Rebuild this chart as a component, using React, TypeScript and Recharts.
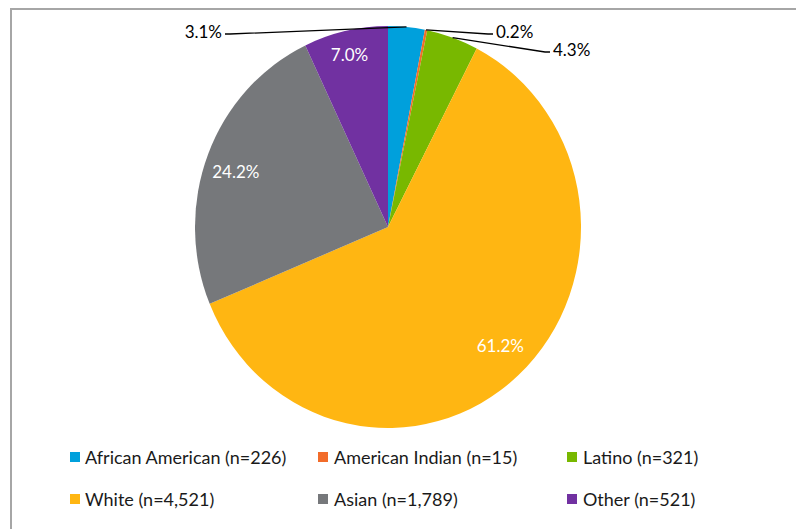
import React from 'react';
import { PieChart, Pie, Cell, Legend } from 'recharts';

const categories = ['African American', 'American Indian', 'Latino', 'White', 'Asian', 'Other'];
const counts = [226, 15, 321, 4521, 1789, 521];
const legendLabels = [
  'African American (n=226)',
  'American Indian (n=15)',
  'Latino (n=321)',
  'White (n=4,521)',
  'Asian (n=1,789)',
  'Other (n=521)',
];

const colors = ['#00A0DC', '#F26C2A', '#78B800', '#FFB612', '#76787B', '#7131A1'];
const FONT = 'Lato, "Open Sans", sans-serif';

const W = 796;
const H = 521;
const CX = 380;
const CY = 219;
const RX = 193;
const RY = 201;
const RAD = Math.PI / 180;

const data = categories.map((name, i) => ({ name, value: counts[i], label: legendLabels[i] }));
const total = counts.reduce((a, b) => a + b, 0);

// label placement style (not data)
const labelStyles: any[] = [
  { inside: false, dx: -163, dy: -193, anchor: 'end', tdy: -3 },
  { inside: false, dx: 105, dy: -193, anchor: 'start', tdy: -3 },
  { inside: false, dx: 162, dy: -175, anchor: 'start', tdy: -3 },
  { inside: true, r: 0.83, ox: 4, oy: -4 },
  { inside: true, r: 0.834, ox: -2, oy: 5 },
  { inside: true, r: 0.884, ox: -1, oy: 1 },
];

const renderLabel = (props: any) => {
  const { midAngle, index } = props;
  const pct = typeof props.percent === 'number' ? props.percent : counts[index] / total;
  const text = (pct * 100).toFixed(1) + '%';
  const c = Math.cos(midAngle * RAD);
  const s = Math.sin(midAngle * RAD);
  const st = labelStyles[index];
  if (st.inside) {
    const x = CX + RX * st.r * c + st.ox;
    const y = CY - RY * st.r * s + st.oy;
    return (
      <text key={'l' + index} x={x} y={y} fill="#ffffff" textAnchor="middle" dominantBaseline="central" fontSize={17} fontFamily={FONT}>
        {text}
      </text>
    );
  }
  const sx = CX + RX * c;
  const sy = CY - RY * s;
  const ex = CX + st.dx;
  const ey = CY + st.dy;
  const hx = st.anchor === 'end' ? ex + 5 : ex - 5;
  const tx = st.anchor === 'end' ? ex - 3 : ex + 3;
  return (
    <g key={'l' + index}>
      <polyline points={`${sx},${sy} ${hx},${ey} ${ex},${ey}`} fill="none" stroke="#000000" strokeWidth={1.3} />
      <text x={tx} y={ey + st.tdy} fill="#000000" textAnchor={st.anchor} dominantBaseline="central" fontSize={17} fontFamily={FONT}>
        {text}
      </text>
    </g>
  );
};

const legendCols = [
  { sq: 62, tx: 77 },
  { sq: 310, tx: 326 },
  { sq: 559, tx: 575 },
];
const legendRows = [449, 491];

const renderLegend = () => (
  <div style={{ position: 'relative', width: W, height: H }}>
    {data.map((d, i) => {
      const col = legendCols[i % 3];
      const rowY = legendRows[Math.floor(i / 3)];
      return (
        <div key={d.name}>
          <div
            style={{
              position: 'absolute',
              left: col.sq,
              top: rowY - 5,
              width: 10,
              height: 10,
              background: colors[i],
            }}
          />
          <div
            style={{
              position: 'absolute',
              left: col.tx,
              top: rowY - 12,
              height: 24,
              lineHeight: '24px',
              fontSize: 18,
              fontFamily: FONT,
              color: '#1a1a1a',
              whiteSpace: 'nowrap',
            }}
          >
            {d.label}
          </div>
        </div>
      );
    })}
  </div>
);

export default function App() {
  return (
    <div style={{ position: 'relative', width: W, height: H, overflow: 'hidden', background: '#ffffff' }}>
      <style>{`path.recharts-sector { transform-origin: ${CX}px ${CY}px; transform: scaleY(${RY / RX}); }`}</style>
      <div
        style={{
          position: 'absolute',
          left: 2,
          top: 0,
          width: 900,
          height: 700,
          borderTop: '2px solid #A6A6A6',
          borderLeft: '2px solid #A6A6A6',
        }}
      />
      <div style={{ position: 'absolute', left: 0, top: 0 }}>
        <PieChart width={W} height={H} margin={{ top: 0, right: 0, bottom: 0, left: 0 }}>
          <Pie
            data={data}
            dataKey="value"
            nameKey="name"
            cx={CX}
            cy={CY}
            outerRadius={RX}
            startAngle={90}
            endAngle={-270}
            stroke="none"
            isAnimationActive={false}
            label={renderLabel}
            labelLine={false}
          >
            {data.map((d, i) => (
              <Cell key={d.name} fill={colors[i]} />
            ))}
          </Pie>
          <Legend
            content={renderLegend}
            wrapperStyle={{ position: 'absolute', left: 0, top: 0, width: W, height: H, pointerEvents: 'none' }}
          />
        </PieChart>
      </div>
    </div>
  );
}
